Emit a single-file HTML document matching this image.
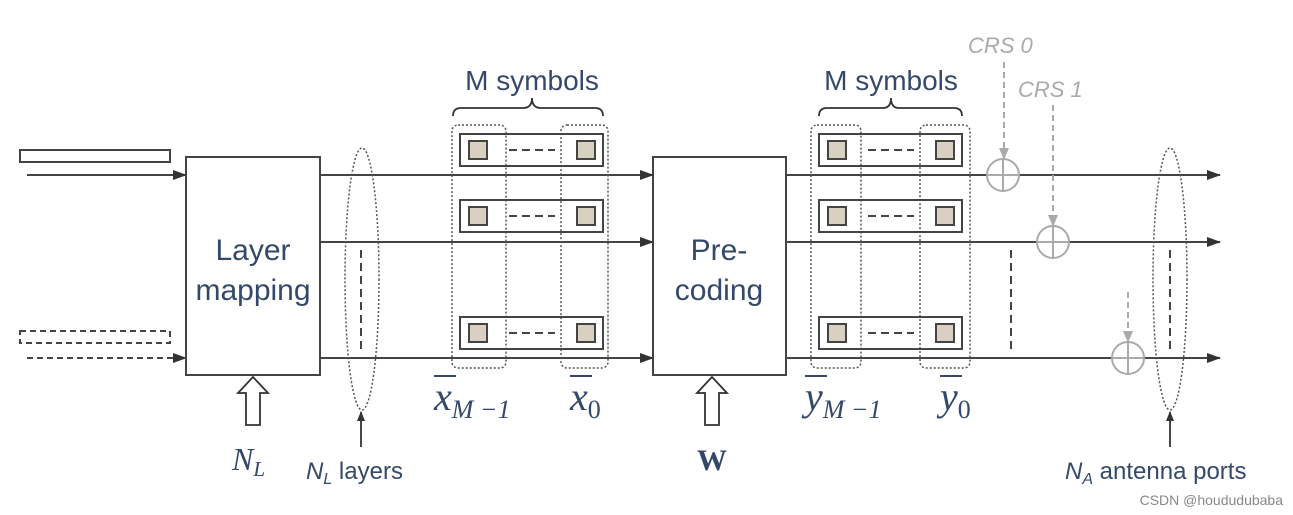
<!DOCTYPE html>
<html><head><style>body{margin:0;background:#fff}svg{display:block}</style></head><body>
<svg width="1293" height="515" viewBox="0 0 1293 515" xmlns="http://www.w3.org/2000/svg" font-family="Liberation Sans, sans-serif">
<defs>
<marker id="a" markerWidth="14" markerHeight="10" refX="13" refY="5" orient="auto" markerUnits="userSpaceOnUse"><path d="M0,0 L14,5 L0,10 Z" fill="#333"/></marker>
<marker id="g" markerWidth="12" markerHeight="10" refX="11" refY="5" orient="auto" markerUnits="userSpaceOnUse"><path d="M0,0 L12,5 L0,10 Z" fill="#aaa"/></marker>
<marker id="s" markerWidth="10" markerHeight="10" refX="9" refY="5" orient="auto" markerUnits="userSpaceOnUse"><path d="M0,1 L10,5 L0,9 Z" fill="#333"/></marker>
</defs>
<g stroke="#444" stroke-width="2" fill="none">
<rect x="20" y="150" width="150" height="12"/>
<rect x="20" y="331" width="150" height="12" stroke-dasharray="6,4"/>
<line x1="27" y1="175" x2="186" y2="175" marker-end="url(#a)"/>
<line x1="27" y1="358" x2="186" y2="358" stroke-dasharray="6,4" marker-end="url(#a)"/>
<rect x="186" y="157" width="134" height="218"/>
<rect x="653" y="157" width="133" height="218"/>
<line x1="320" y1="175" x2="653" y2="175" marker-end="url(#a)"/>
<line x1="320" y1="242" x2="653" y2="242" marker-end="url(#a)"/>
<line x1="320" y1="358" x2="653" y2="358" marker-end="url(#a)"/>
<line x1="786" y1="175" x2="1220" y2="175" marker-end="url(#a)"/>
<line x1="786" y1="242" x2="1220" y2="242" marker-end="url(#a)"/>
<line x1="786" y1="358" x2="1220" y2="358" marker-end="url(#a)"/>
<line x1="361" y1="250" x2="361" y2="350" stroke-dasharray="8,5"/>
<line x1="1011" y1="250" x2="1011" y2="350" stroke-dasharray="8,5"/>
<line x1="1170" y1="250" x2="1170" y2="350" stroke-dasharray="8,5"/>
</g>
<g stroke="#555" stroke-width="1.5" fill="none" stroke-dasharray="2,2">
<ellipse cx="362" cy="279" rx="17" ry="131"/>
<ellipse cx="1170" cy="279" rx="17" ry="131"/>
<rect x="452" y="125" width="54" height="243" rx="6"/>
<rect x="561" y="125" width="47" height="243" rx="6"/>
<rect x="811" y="125" width="50" height="243" rx="6"/>
<rect x="920" y="125" width="50" height="243" rx="6"/>
</g>
<g stroke="#444" stroke-width="2">
<g id="row">
<rect x="460" y="134" width="143" height="32" fill="none"/>
<rect x="469" y="141" width="18" height="18" fill="#d9d0c2"/>
<rect x="577" y="141" width="18" height="18" fill="#d9d0c2"/>
<line x1="509" y1="150" x2="555" y2="150" stroke-dasharray="8,5"/>
</g>
<use href="#row" y="66"/><use href="#row" y="183"/>
<use href="#row" x="359"/><use href="#row" x="359" y="66"/><use href="#row" x="359" y="183"/>
</g>
<g stroke="#333" stroke-width="1.8" fill="none">
<path d="M453,116 q0,-8 8,-8 h62 q9,0 9,-10 q0,10 9,10 h54 q8,0 8,8"/>
<path d="M819,116 q0,-8 8,-8 h56 q8,0 8,-10 q0,10 8,10 h55 q8,0 8,8"/>
<path d="M246,425 v-32 h-8 l15,-16 l15,16 h-8 v32 z"/>
<path d="M705,425 v-32 h-8 l15,-16 l15,16 h-8 v32 z"/>
<line x1="361" y1="447" x2="361" y2="412" marker-end="url(#s)"/>
<line x1="1170" y1="447" x2="1170" y2="412" marker-end="url(#s)"/>
</g>
<g stroke="#aaa" stroke-width="2" fill="none">
<circle cx="1003" cy="175" r="16"/><line x1="987" y1="175" x2="1019" y2="175"/><line x1="1003" y1="159" x2="1003" y2="191"/>
<circle cx="1053" cy="242" r="16"/><line x1="1037" y1="242" x2="1069" y2="242"/><line x1="1053" y1="226" x2="1053" y2="258"/>
<circle cx="1128" cy="358" r="16"/><line x1="1112" y1="358" x2="1144" y2="358"/><line x1="1128" y1="342" x2="1128" y2="374"/>
<line x1="1004" y1="62" x2="1004" y2="159" stroke-dasharray="6,4" marker-end="url(#g)"/>
<line x1="1053" y1="105" x2="1053" y2="226" stroke-dasharray="6,4" marker-end="url(#g)"/>
<line x1="1128" y1="292" x2="1128" y2="342" stroke-dasharray="6,4" marker-end="url(#g)"/>
</g>
<g fill="#34496a" font-size="30" text-anchor="middle">
<text x="253" y="260">Layer</text><text x="253" y="300">mapping</text>
<text x="719" y="260">Pre-</text><text x="719" y="300">coding</text>
<text x="532" y="90" font-size="28">M symbols</text>
<text x="891" y="90" font-size="28">M symbols</text>
</g>
<g fill="#aaa" font-size="22" font-style="italic">
<text x="968" y="53">CRS 0</text><text x="1018" y="97">CRS 1</text>
</g>
<g fill="#34496a" font-family="Liberation Serif, serif" font-style="italic">
<text x="232" y="470" font-size="32">N<tspan font-size="21" dy="6">L</tspan></text>
<text x="712" y="470" font-size="30" font-weight="bold" font-style="normal" text-anchor="middle">W</text>
<text x="434" y="410" font-size="40">x<tspan font-size="26" dy="8">M −1</tspan></text>
<text x="570" y="410" font-size="40">x<tspan font-size="26" dy="8" font-style="normal">0</tspan></text>
<text x="805" y="410" font-size="40">y<tspan font-size="26" dy="8">M −1</tspan></text>
<text x="940" y="410" font-size="40">y<tspan font-size="26" dy="8" font-style="normal">0</tspan></text>
</g>
<g stroke="#34496a" stroke-width="2">
<line x1="434" y1="376" x2="456" y2="376"/><line x1="570" y1="376" x2="592" y2="376"/>
<line x1="805" y1="376" x2="827" y2="376"/><line x1="940" y1="376" x2="962" y2="376"/>
</g>
<g fill="#34496a" font-size="24">
<text x="306" y="479"><tspan font-style="italic">N</tspan><tspan font-size="16" dy="5" font-style="italic">L</tspan><tspan dy="-5"> layers</tspan></text>
<text x="1065" y="479"><tspan font-style="italic">N</tspan><tspan font-size="16" dy="5" font-style="italic">A</tspan><tspan dy="-5"> antenna ports</tspan></text>
</g>
<text x="1283" y="505" font-size="14" fill="#888" text-anchor="end">CSDN @hoududubaba</text>
</svg>
</body></html>
